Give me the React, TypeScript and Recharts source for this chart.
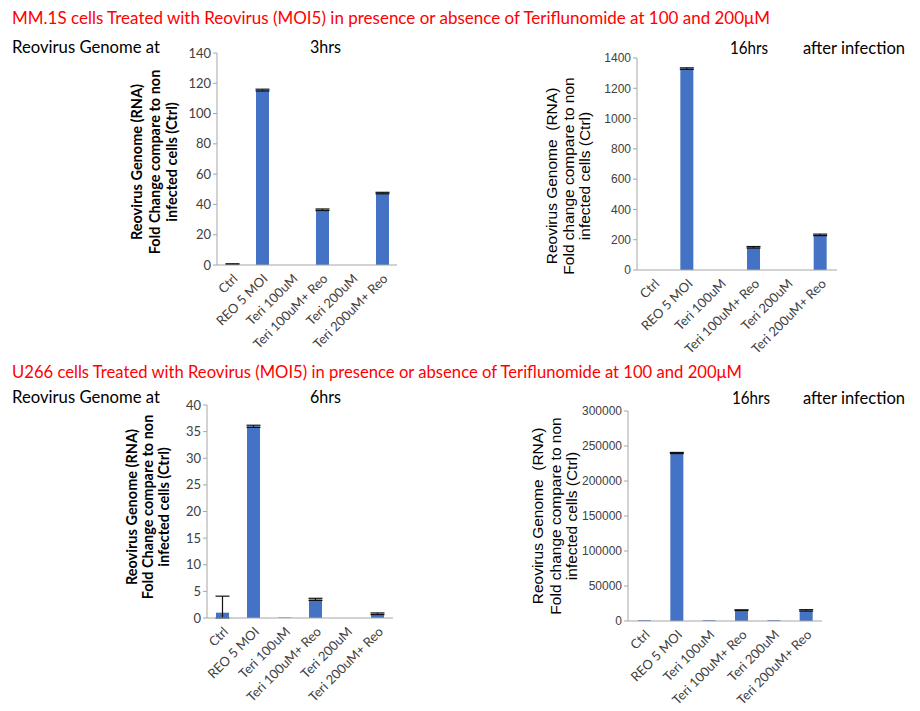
import { BarChart, Bar, XAxis, YAxis, ErrorBar } from 'recharts';

const categories = ['Ctrl', 'REO 5 MOI', 'Teri 100uM', 'Teri 100uM+ Reo', 'Teri 200uM', 'Teri 200uM+ Reo'];

// MM.1S, 3 hrs
const mm3hValues = [0.6, 115.5, 0, 36.5, 0, 47.5];
const mm3hErrors = [0.2, 0.6, 0, 0.5, 0, 0.5];
const mm3hTicks = [0, 20, 40, 60, 80, 100, 120, 140];

// MM.1S, 16 hrs
const mm16hValues = [0, 1330, 0, 150, 0, 232];
const mm16hErrors = [0, 5, 0, 5, 0, 5];
const mm16hTicks = [0, 200, 400, 600, 800, 1000, 1200, 1400];

// U266, 6 hrs
const u6hValues = [1.0, 36.0, 0.1, 3.5, 0, 0.8];
const u6hErrors: (number | [number, number])[] = [[1.0, 3.1], 0.2, 0, 0.2, 0, 0.15];
const u6hTicks = [0, 5, 10, 15, 20, 25, 30, 35, 40];

// U266, 16 hrs
const u16hValues = [1200, 240000, 1200, 15500, 1200, 15200];
const u16hErrors = [0, 800, 0, 500, 0, 1000];
const u16hTicks = [0, 50000, 100000, 150000, 200000, 250000, 300000];

const BLUE = '#4472C4';
const AXIS = '#a6a6a6';
const CALIBRI = 'Lato, "Open Sans", sans-serif';
const ARIAL = '"Liberation Sans", Arial, sans-serif';

type Box = { l: number; t: number; r: number; b: number };

const yW = 46;
const mTop = 10;
const mRight = 12;
const xH = 100;

function Panel({
  values,
  errors,
  ticks,
  box,
  yFont,
  yFontSize,
}: {
  values: number[];
  errors: (number | [number, number])[];
  ticks: number[];
  box: Box;
  yFont: string;
  yFontSize: number;
}) {
  const data = categories.map((name, i) => ({ name, value: values[i], err: errors[i] }));
  const width = box.r - box.l + yW + mRight;
  const height = box.b - box.t + mTop + xH;
  return (
    <div style={{ position: 'absolute', left: box.l - yW, top: box.t - mTop }}>
      <BarChart width={width} height={height} data={data} margin={{ top: mTop, right: mRight, left: 0, bottom: 0 }}>
        <XAxis
          dataKey="name"
          interval={0}
          angle={-45}
          textAnchor="end"
          height={xH}
          tickLine={false}
          tickMargin={2}
          axisLine={{ stroke: AXIS }}
          tick={{ fontSize: 13, fill: '#404040', fontFamily: CALIBRI }}
        />
        <YAxis
          width={yW}
          domain={[0, ticks[ticks.length - 1]]}
          ticks={ticks}
          interval={0}
          allowDataOverflow
          tickSize={4}
          axisLine={{ stroke: AXIS }}
          tickLine={{ stroke: AXIS }}
          tick={{ fontSize: yFontSize, fill: '#404040', fontFamily: yFont }}
        />
        <Bar dataKey="value" fill={BLUE} barSize={13} isAnimationActive={false}>
          <ErrorBar dataKey="err" width={7} stroke="#111" strokeWidth={1.2} isAnimationActive={false} />
        </Bar>
      </BarChart>
    </div>
  );
}

function YLabel({ xs, cy, lines, bold, font, size }: { xs: number[]; cy: number; lines: string[]; bold: boolean; font: string; size: number }) {
  return (
    <>
      {lines.map((line, i) => (
        <text
          key={i}
          transform={`translate(${xs[i] + size * 0.35}, ${cy}) rotate(-90)`}
          textAnchor="middle"
          fontFamily={font}
          fontSize={size}
          fontWeight={bold ? 700 : 400}
          fill="#000"
          style={{ whiteSpace: 'pre' }}
        >
          {line}
        </text>
      ))}
    </>
  );
}

const leftLabel = ['Reovirus Genome (RNA)', 'Fold Change compare to non', 'infected cells (Ctrl)'];
const rightLabel = ['Reovirus Genome  (RNA)', 'Fold change compare to non', 'infected cells (Ctrl)'];

export default function App() {
  return (
    <div style={{ position: 'absolute', left: 0, top: 0, width: 920, height: 711, background: '#fff', overflow: 'hidden' }}>
      <Panel values={mm3hValues} errors={mm3hErrors} ticks={mm3hTicks} box={{ l: 217, t: 53, r: 397, b: 265 }} yFont={CALIBRI} yFontSize={13} />
      <Panel values={mm16hValues} errors={mm16hErrors} ticks={mm16hTicks} box={{ l: 637, t: 58, r: 837, b: 270 }} yFont={ARIAL} yFontSize={12} />
      <Panel values={u6hValues} errors={u6hErrors} ticks={u6hTicks} box={{ l: 207, t: 405, r: 393, b: 618 }} yFont={CALIBRI} yFontSize={13} />
      <Panel values={u16hValues} errors={u16hErrors} ticks={u16hTicks} box={{ l: 628, t: 411, r: 822, b: 621 }} yFont={ARIAL} yFontSize={12} />

      <svg width={920} height={711} style={{ position: 'absolute', left: 0, top: 0, pointerEvents: 'none' }}>
        <g fontFamily={CALIBRI} fontSize={18} style={{ whiteSpace: 'pre' }}>
          <text x={12} y={24} fill="#ff0000" textLength={758} lengthAdjust="spacingAndGlyphs">
            MM.1S cells Treated with Reovirus (MOI5)  in presence or absence of Teriflunomide at 100 and 200μM
          </text>
          <text x={12} y={53} fill="#000" textLength={148} lengthAdjust="spacingAndGlyphs">Reovirus Genome at</text>
          <text x={310} y={53} fill="#000" textLength={31} lengthAdjust="spacingAndGlyphs">3hrs</text>
          <text x={730} y={54} fill="#000" textLength={38} lengthAdjust="spacingAndGlyphs">16hrs</text>
          <text x={803} y={54} fill="#000" textLength={102} lengthAdjust="spacingAndGlyphs">after infection</text>

          <text x={12} y={378} fill="#ff0000" textLength={730} lengthAdjust="spacingAndGlyphs">
            U266 cells Treated with Reovirus (MOI5) in presence or absence of Teriflunomide at 100 and 200μM
          </text>
          <text x={12} y={403} fill="#000" textLength={148} lengthAdjust="spacingAndGlyphs">Reovirus Genome at</text>
          <text x={310} y={403} fill="#000" textLength={31} lengthAdjust="spacingAndGlyphs">6hrs</text>
          <text x={732} y={404} fill="#000" textLength={38} lengthAdjust="spacingAndGlyphs">16hrs</text>
          <text x={803} y={404} fill="#000" textLength={102} lengthAdjust="spacingAndGlyphs">after infection</text>
        </g>
        <YLabel xs={[137, 155, 172]} cy={162} lines={leftLabel} bold font={CALIBRI} size={14.5} />
        <YLabel xs={[552, 569, 585]} cy={176} lines={rightLabel} bold={false} font={ARIAL} size={15.5} />
        <YLabel xs={[132, 148, 164]} cy={507} lines={leftLabel} bold font={CALIBRI} size={14.5} />
        <YLabel xs={[538, 556, 572]} cy={516} lines={rightLabel} bold={false} font={ARIAL} size={15.5} />
      </svg>
    </div>
  );
}
